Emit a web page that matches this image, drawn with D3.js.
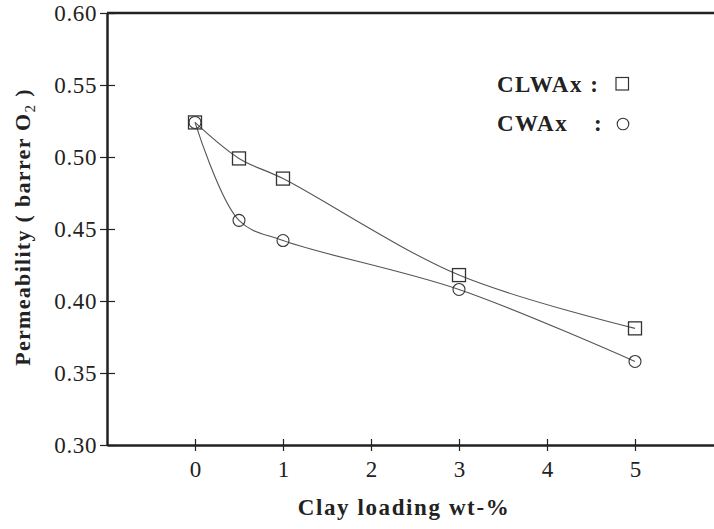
<!DOCTYPE html>
<html>
<head>
<meta charset="utf-8">
<script src="https://cdn.jsdelivr.net/npm/d3@7"></script>
</head>
<body style="margin:0; background:#fff">
<div id="chart"></div>
<script>
// clay loading (wt-%)
const loading = [0, 0.5, 1, 3, 5];
// permeability (barrer O2)
const clwax = [0.524, 0.499, 0.485, 0.418, 0.381];
const cwax = [0.524, 0.456, 0.442, 0.408, 0.358];
const xTicks = [0, 1, 2, 3, 4, 5];
const yTicks = [0.30, 0.35, 0.40, 0.45, 0.50, 0.55, 0.60];

const width = 714, height = 529;
const serif = '"Liberation Serif"';

const svg = d3.select("#chart")
  .append("svg")
  .attr("width", width)
  .attr("height", height)
  .style("display", "block");

const x = d3.scaleLinear().domain([-1, 6]).range([107, 723]);
const y = d3.scaleLinear().domain([0.30, 0.60]).range([445, 13]);

const axisColor = "#222";

// top line of the frame
svg.append("line")
  .attr("x1", x(-1)).attr("x2", x(6))
  .attr("y1", y(0.60)).attr("y2", y(0.60))
  .attr("stroke", axisColor).attr("stroke-width", 2.5);

const xAxis = svg.append("g")
  .attr("transform", `translate(0,${y(0.30)})`)
  .call(d3.axisBottom(x).tickValues(xTicks).tickFormat(d3.format("d"))
    .tickSizeInner(-6).tickSizeOuter(0).tickPadding(16));
xAxis.select(".domain").attr("stroke", axisColor).attr("stroke-width", 2.5);
xAxis.selectAll(".tick line").attr("stroke", axisColor).attr("stroke-width", 1.2)
  .attr("y1", -6).attr("y2", 6);
xAxis.selectAll(".tick text")
  .style("font-family", serif).style("font-size", "23px").attr("fill", "#222");

const yAxis = svg.append("g")
  .attr("transform", `translate(${x(-1)},0)`)
  .call(d3.axisLeft(y).tickValues(yTicks).tickFormat(d3.format(".2f"))
    .tickSizeInner(0).tickSizeOuter(0).tickPadding(10));
yAxis.select(".domain").attr("stroke", axisColor).attr("stroke-width", 2.5);
yAxis.selectAll(".tick line").attr("stroke", axisColor).attr("stroke-width", 1.2)
  .attr("x1", -7).attr("x2", 8);
yAxis.selectAll(".tick text")
  .style("font-family", serif).style("font-size", "23px").attr("fill", "#222")
  .attr("letter-spacing", 0.6);

// axis titles
svg.append("text")
  .attr("x", 404).attr("y", 515)
  .attr("text-anchor", "middle")
  .style("font-family", serif).style("font-size", "23px").style("font-weight", "bold")
  .attr("fill", "#222")
  .attr("letter-spacing", 1.6)
  .text("Clay loading wt-%");

const yTitle = svg.append("text")
  .attr("transform", "translate(30,227) rotate(-90)")
  .attr("text-anchor", "middle")
  .style("font-family", serif).style("font-size", "22px").style("font-weight", "bold")
  .attr("fill", "#222")
  .attr("letter-spacing", 1.3);
yTitle.append("tspan").text("Permeability ( barrer O");
yTitle.append("tspan").style("font-size", "15px").style("font-weight", "normal").attr("dy", 5).text("2");
yTitle.append("tspan").attr("dy", -5).text(" )");

// curves
const line = d3.line()
  .x(d => x(d[0]))
  .y(d => y(d[1]))
  .curve(d3.curveCatmullRom.alpha(0.5));

const series = [
  { name: "CLWAx", values: clwax, shape: "square" },
  { name: "CWAx", values: cwax, shape: "circle" }
];

series.forEach(s => {
  const pts = loading.map((l, i) => [l, s.values[i]]);
  svg.append("path")
    .datum(pts)
    .attr("d", line)
    .attr("fill", "none")
    .attr("stroke", "#555")
    .attr("stroke-width", 1.1);
});

series.forEach(s => {
  const pts = loading.map((l, i) => [l, s.values[i]]);
  if (s.shape === "square") {
    svg.selectAll(null).data(pts).enter().append("rect")
      .attr("x", d => x(d[0]) - 6.5).attr("y", d => y(d[1]) - 6.5)
      .attr("width", 13).attr("height", 13)
      .attr("fill", "none").attr("stroke", "#333").attr("stroke-width", 1.3);
  } else {
    svg.selectAll(null).data(pts).enter().append("circle")
      .attr("cx", d => x(d[0])).attr("cy", d => y(d[1]))
      .attr("r", 6)
      .attr("fill", "none").attr("stroke", "#333").attr("stroke-width", 1.1);
  }
});

// legend
const legend = svg.append("g")
  .style("font-family", serif).style("font-size", "23px").style("font-weight", "bold")
  .attr("fill", "#222")
  .attr("letter-spacing", 1.5);
legend.append("text").attr("x", 497).attr("y", 92).text("CLWAx :");
legend.append("rect").attr("x", 616).attr("y", 77.5).attr("width", 12.5).attr("height", 12.5)
  .attr("fill", "none").attr("stroke", "#333").attr("stroke-width", 1.2);
legend.append("text").attr("x", 497).attr("y", 131).text("CWAx");
legend.append("text").attr("x", 594).attr("y", 131).text(":");
legend.append("circle").attr("cx", 623).attr("cy", 124).attr("r", 5.8)
  .attr("fill", "none").attr("stroke", "#333").attr("stroke-width", 1.1);
</script>
</body>
</html>
